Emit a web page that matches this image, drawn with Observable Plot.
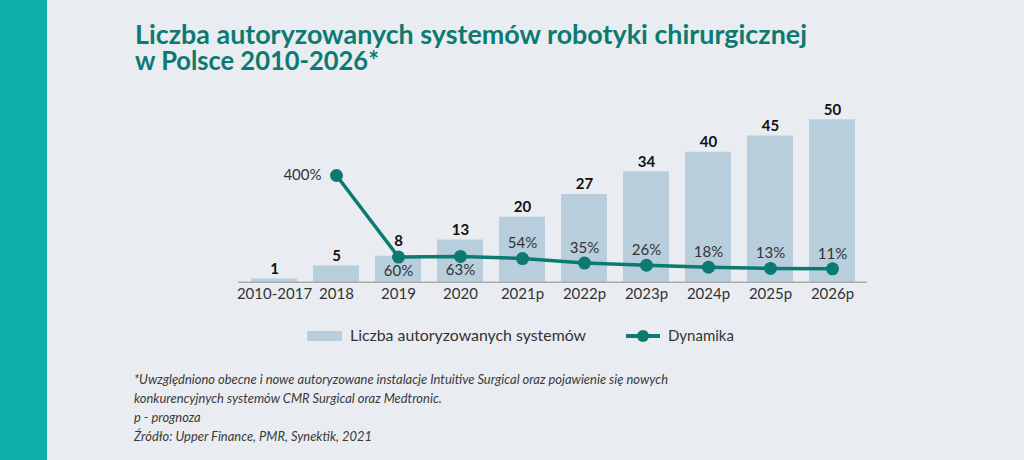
<!DOCTYPE html>
<html>
<head>
<meta charset="utf-8">
<script src="https://cdn.jsdelivr.net/npm/d3@7"></script>
<script src="https://cdn.jsdelivr.net/npm/@observablehq/plot@0.6"></script>
<style>
  html, body { margin: 0; padding: 0; background: #e9edf1; }
  #root { position: relative; width: 1024px; height: 460px; background: #e9edf1; overflow: hidden; font-family: Lato, "Open Sans", sans-serif; }
  #stripe { position: absolute; left: 0; top: 0; width: 47px; height: 460px; background: #10aeaa; }
  .abs { position: absolute; white-space: nowrap; line-height: 1; }
  .title { font-weight: 700; font-size: 26px; line-height: 26px; color: #0d7a71; }
  .title span { display: inline-block; transform-origin: left center; }
  .note { font-style: italic; font-weight: 400; font-size: 13px; color: #3a3a3a; transform-origin: left center; }
  .leg { font-size: 15px; color: #333; transform-origin: left center; }
  .chart { position: absolute; left: 0; top: 90px; }
</style>
</head>
<body>
<div id="root">
  <div id="stripe"></div>
  <div class="abs title" style="left:135px;top:21px;"><span id="t1">Liczba autoryzowanych systemów robotyki chirurgicznej</span><br><span id="t2">w Polsce 2010-2026*</span></div>
  <div id="bars" class="chart"></div>
  <div id="line" class="chart"></div>
  <div class="abs" style="left:307px;top:331px;width:35px;height:10px;background:#b8cedd;"></div>
  <div class="abs leg" id="l1" style="left:350px;top:328px;">Liczba autoryzowanych systemów</div>
  <div class="abs" style="left:626px;top:334px;width:34px;height:3.5px;background:#0b7a70;"></div>
  <div class="abs" style="left:637px;top:330px;width:12px;height:12px;border-radius:50%;background:#0b7a70;"></div>
  <div class="abs leg" id="l2" style="left:668px;top:328px;">Dynamika</div>
  <div class="abs note" id="n1" style="left:134px;top:373px;">*Uwzględniono obecne i nowe autoryzowane instalacje Intuitive Surgical oraz pojawienie się nowych</div>
  <div class="abs note" id="n2" style="left:134px;top:392px;">konkurencyjnych systemów CMR Surgical oraz Medtronic.</div>
  <div class="abs note" id="n3" style="left:134px;top:411px;">p - prognoza</div>
  <div class="abs note" id="n4" style="left:134px;top:430px;">Źródło: Upper Finance, PMR, Synektik, 2021</div>
</div>
<script>
const categories = ["2010-2017", "2018", "2019", "2020", "2021p", "2022p", "2023p", "2024p", "2025p", "2026p"];
const systems = [1, 5, 8, 13, 20, 27, 34, 40, 45, 50];
const dynamics = [null, 400, 60, 63, 54, 35, 26, 18, 13, 11];
const dynamicsLabels = ["", "400%", "60%", "63%", "54%", "35%", "26%", "18%", "13%", "11%"];

const barData = categories.map((c, i) => ({cat: c, val: systems[i], i}));
const lineData = categories.map((c, i) => ({cat: c, val: dynamics[i], label: dynamicsLabels[i], i}))
  .filter(d => d.val != null);

const W = 1024, H = 220;
const common = {
  width: W, height: H,
  marginLeft: 238, marginRight: 157, marginTop: 0, marginBottom: 28,
  style: {background: "transparent", fontFamily: "Lato, 'Open Sans', sans-serif", overflow: "visible"},
  x: {type: "band", domain: categories, paddingInner: 0.263, paddingOuter: 0.17}
};

const teal = "#0b7a70";

const bars = Plot.plot({
  ...common,
  y: {domain: [0, 50], range: [191.7, 29.3], axis: null},
  marks: [
    Plot.barY(barData, {x: "cat", y: "val", fill: "#b8cedd"}),
    Plot.ruleY([0], {stroke: "#8a8a8a", strokeWidth: 1}),
    Plot.text(barData, {filter: d => d.i !== 2, x: "cat", y: "val", text: d => String(d.val), dy: -10, fontWeight: 700, fontSize: 15, fill: "#111"}),
    Plot.text(barData, {filter: d => d.i === 2, x: "cat", y: "val", text: d => String(d.val), dy: -15, fontWeight: 700, fontSize: 15, fill: "#111"}),
    Plot.axisX({tickSize: 0, tickPadding: 6, fontSize: 15, color: "#333", label: null})
  ]
});
document.getElementById("bars").appendChild(bars);

const line = Plot.plot({
  ...common,
  y: {domain: [0, 400], range: [181, 85], axis: null},
  x: {...common.x, axis: null},
  marks: [
    Plot.line(lineData, {x: "cat", y: "val", stroke: teal, strokeWidth: 3.5}),
    Plot.dot(lineData, {x: "cat", y: "val", r: 6.5, fill: teal}),
    Plot.text(lineData, {filter: d => d.i === 1, x: "cat", y: "val", text: "label", textAnchor: "end", dx: -15, dy: 0, fontSize: 15, fill: "#333"}),
    Plot.text(lineData, {filter: d => d.i === 2 || d.i === 3, x: "cat", y: "val", text: "label", dy: 14, fontSize: 15, fill: "#333"}),
    Plot.text(lineData, {filter: d => d.i > 3, x: "cat", y: "val", text: "label", dy: -15, fontSize: 15, fill: "#333"})
  ]
});
document.getElementById("line").appendChild(line);

function fit(id, target) {
  const el = document.getElementById(id);
  const w = el.getBoundingClientRect().width;
  const s = target / w;
  el.style.transform = `scaleX(${s})`;
  return s;
}
fit("t1", 672);
fit("t2", 244);
const ns = fit("n1", 534);
["n2", "n3", "n4"].forEach(id => document.getElementById(id).style.transform = `scaleX(${ns})`);
fit("l1", 236);
</script>
</body>
</html>
